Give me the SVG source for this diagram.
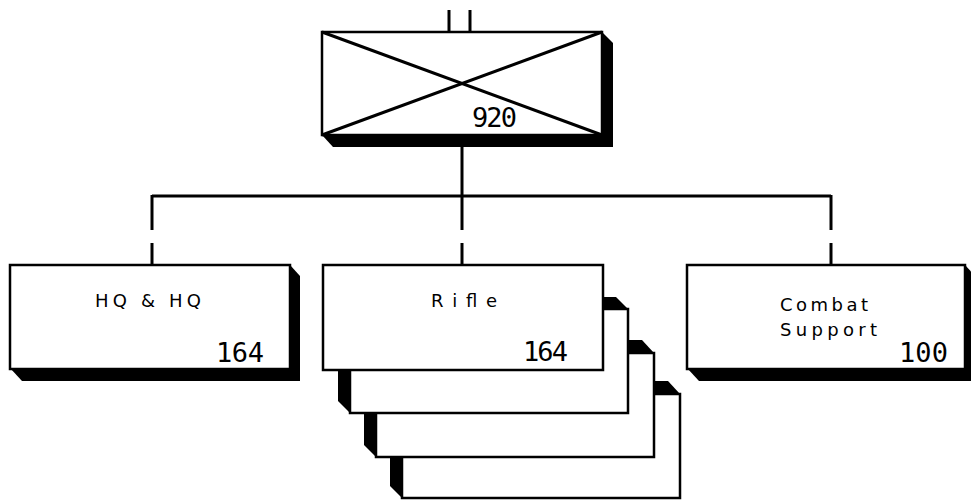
<svg xmlns="http://www.w3.org/2000/svg" width="971" height="501" viewBox="0 0 971 501">
<style>
.box{fill:#fff;stroke:#000;stroke-width:2.5}
.sh{fill:#000}
.ln{stroke:#000;stroke-width:3;fill:none}
.lbl{font-family:"DejaVu Sans",sans-serif;font-size:18px;fill:#000}
.num{font-family:"DejaVu Sans Mono",monospace;font-size:27px;fill:#000}
</style>
<rect width="971" height="501" fill="#fff"/>
<g id="connectors">
<line class="ln" x1="449" y1="10" x2="449" y2="32" stroke-width="4"/>
<line class="ln" x1="470" y1="10" x2="470" y2="32" stroke-width="4"/>
<line class="ln" x1="462" y1="147" x2="462" y2="196"/>
<line class="ln" x1="152" y1="196" x2="831" y2="196"/>
<line class="ln" x1="152" y1="195" x2="152" y2="230"/>
<line class="ln" x1="462" y1="196" x2="462" y2="230"/>
<line class="ln" x1="831" y1="195" x2="831" y2="230"/>
<line class="ln" x1="152" y1="243" x2="152" y2="265"/>
<line class="ln" x1="462" y1="243" x2="462" y2="265"/>
<line class="ln" x1="831" y1="243" x2="831" y2="265"/>
</g>
<g id="regiment">
<polygon class="sh" points="602,32 613,43 613,147 333,147 322,135"/>
<rect class="box" x="322" y="32" width="280" height="103" stroke-width="3"/>
<line class="ln" x1="322" y1="32" x2="602" y2="135"/>
<line class="ln" x1="602" y1="32" x2="322" y2="135"/>
<text class="num" x="472" y="127" textLength="45">920</text>
</g>
<g id="hq">
<polygon class="sh" points="290,265 300,276 300,381 22,381 10,368"/>
<rect class="box" x="10" y="265" width="280" height="104"/>
<text class="lbl" x="95" y="307" textLength="106" lengthAdjust="spacing">HQ &amp; HQ</text>
<text class="num" x="216" y="362" textLength="48">164</text>
</g>
<g id="rifle">
<polygon class="sh" points="390,381 668,381 680,394 402,498 390,486"/>
<rect class="box" x="402" y="394" width="278" height="104"/>
<polygon class="sh" points="364,340 642,340 654,353 376,457 364,445"/>
<rect class="box" x="376" y="353" width="278" height="104"/>
<polygon class="sh" points="338,297 616,297 628,309 350,413 338,401"/>
<rect class="box" x="350" y="309" width="278" height="104"/>
<rect class="box" x="323" y="265" width="280" height="105"/>
<text class="lbl" x="431" y="307" textLength="66" lengthAdjust="spacing">Rifle</text>
<text class="num" x="523" y="361" textLength="45">164</text>
</g>
<g id="combat">
<polygon class="sh" points="965,265 975,276 975,381 699,381 687,368"/>
<rect class="box" x="687" y="265" width="278" height="104"/>
<text class="lbl" x="780" y="311" textLength="88" lengthAdjust="spacing">Combat</text>
<text class="lbl" x="780" y="336" textLength="97" lengthAdjust="spacing">Support</text>
<text class="num" x="899" y="362" textLength="49">100</text>
</g>
</svg>
